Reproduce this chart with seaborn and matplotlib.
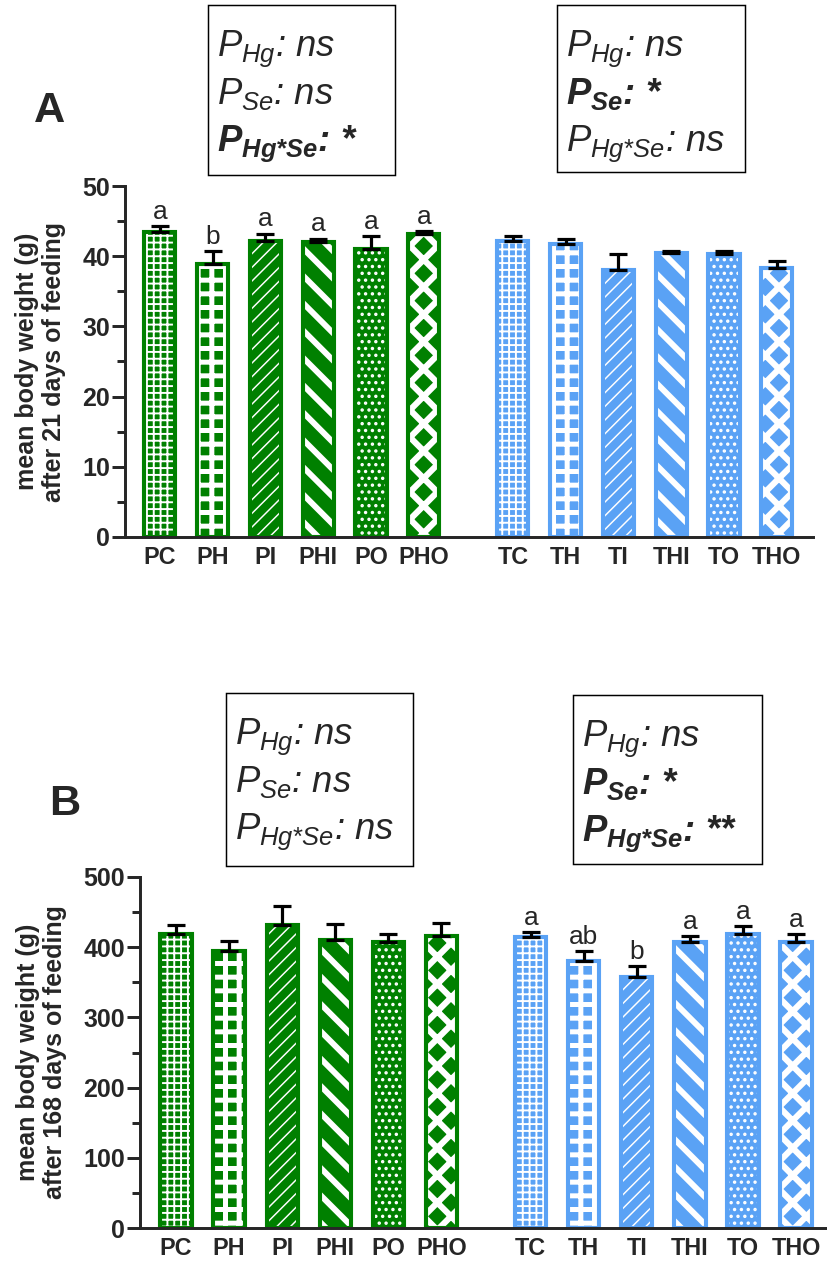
import numpy as np
import pandas as pd
import matplotlib
matplotlib.use("Agg")
import matplotlib.pyplot as plt
import seaborn as sns
from matplotlib.patches import Rectangle
from matplotlib.ticker import MultipleLocator

# ---------------- data ----------------
groups_P = ["PC", "PH", "PI", "PHI", "PO", "PHO"]
groups_T = ["TC", "TH", "TI", "THI", "TO", "THO"]
labels = groups_P + groups_T
diet = ["P"] * 6 + ["T"] * 6

mean_21 = [43.5, 38.9, 42.1, 42.0, 41.0, 43.1, 42.2, 41.8, 38.1, 40.5, 40.3, 38.3]
sem_21 = [0.8, 1.8, 1.1, 0.5, 1.9, 0.5, 0.7, 0.6, 2.2, 0.3, 0.4, 1.0]
letters_21 = ["a", "b", "a", "a", "a", "a", "", "", "", "", "", ""]

mean_168 = [419, 395, 431, 410, 407, 416, 415, 381, 358, 407, 419, 408]
sem_168 = [12, 14, 28, 23, 12, 18, 6, 13, 15, 9, 11, 11]
letters_168 = ["", "", "", "", "", "", "a", "ab", "b", "a", "a", "a"]

box_A_left = [(r"$P_{Hg}$: ns", False), (r"$P_{Se}$: ns", False), (r"$\mathbf{P_{Hg{*}Se}}$: *", True)]
box_A_right = [(r"$P_{Hg}$: ns", False), (r"$\mathbf{P_{Se}}$: *", True), (r"$P_{Hg{*}Se}$: ns", False)]
box_B_left = [(r"$P_{Hg}$: ns", False), (r"$P_{Se}$: ns", False), (r"$P_{Hg{*}Se}$: ns", False)]
box_B_right = [(r"$P_{Hg}$: ns", False), (r"$\mathbf{P_{Se}}$: *", True), (r"$\mathbf{P_{Hg{*}Se}}$: **", True)]

ylabel_A = "mean body weight (g)\nafter 21 days of feeding"
ylabel_B = "mean body weight (g)\nafter 168 days of feeding"

# ---------------- style ----------------
GREEN = "#008000"
BLUE = "#5AA2F5"
palette = {"P": GREEN, "T": BLUE}
# per-treatment pattern: (hatch, hatch linewidth)
patterns = {"C": ("++", 1.7), "H": ("+", 4.4), "I": ("//", 1.3),
            "HI": ("\\", 5.2), "O": ("..", 1.8), "HO": ("x", 5.4)}

DPI = 82
W, H = 827, 1274
GAP = 1.685
xpos = [i for i in range(6)] + [5 + GAP + i for i in range(6)]
BAR_W = 0.59

sns.set_style("ticks")
plt.rcParams["font.family"] = ["Liberation Sans", "DejaVu Sans"]
plt.rcParams["mathtext.fontset"] = "custom"
plt.rcParams["mathtext.rm"] = "Liberation Sans"
plt.rcParams["mathtext.it"] = "Liberation Sans:italic"
plt.rcParams["mathtext.bf"] = "Liberation Sans:bold:italic"

fig = plt.figure(figsize=(W / DPI, H / DPI), dpi=DPI)


def add_axes_px(left, right, top, bottom):
    return fig.add_axes([left / W, 1 - bottom / H, (right - left) / W, (bottom - top) / H])


def draw_panel(ax, means, errs, letters, ymax, major, minor, ylabel, xlim, lab_x):
    df = pd.DataFrame({"pos": xpos, "mean": means, "diet": diet, "label": labels})
    sns.barplot(data=df, x="pos", y="mean", hue="diet", palette=palette,
                native_scale=True, width=BAR_W, dodge=False, errorbar=None,
                linewidth=0, legend=False, ax=ax)
    fills = list(ax.patches)
    for p in fills:
        c = p.get_x() + p.get_width() / 2
        i = int(np.argmin([abs(c - x) for x in xpos]))
        code = labels[i][1:]
        hatch, hlw = patterns[code]
        p.set_facecolor(palette[diet[i]])
        p.set_edgecolor("white")
        p.set_linewidth(0)
        p.set_hatch(hatch)
        if hasattr(p, "set_hatch_linewidth"):
            p.set_hatch_linewidth(hlw)
        p.set_zorder(1)
    sns.barplot(data=df, x="pos", y="mean", hue="diet", palette=palette,
                native_scale=True, width=BAR_W, dodge=False, errorbar=None,
                fill=False, linewidth=3.6, legend=False, ax=ax)
    for p in ax.patches[len(fills):]:
        p.set_zorder(2)
        p.set_joinstyle("miter")
    ax.errorbar(xpos, means, yerr=[np.zeros(len(errs)), errs], fmt="none",
                ecolor="black", elinewidth=2.8, capsize=8, capthick=2.8, zorder=3)
    for x, m, e, l in zip(xpos, means, errs, letters):
        if l:
            ax.annotate(l, (x, m + e), xytext=(0, 2), textcoords="offset points",
                        ha="center", va="bottom", fontsize=23)
    ax.set_xlim(*xlim)
    ax.set_ylim(0, ymax)
    ax.set_yticks(np.arange(0, ymax + 1, major))
    ax.yaxis.set_minor_locator(MultipleLocator(minor))
    ax.set_xticks(xpos)
    ax.set_xticklabels(labels, fontweight="bold", fontsize=20.5)
    ax.tick_params(axis="x", length=0, pad=8)
    ax.tick_params(axis="y", which="major", length=11, width=2.6, labelsize=22, pad=2)
    ax.tick_params(axis="y", which="minor", length=7, width=2.6)
    for t in ax.get_yticklabels():
        t.set_fontweight("bold")
    for s in ["top", "right"]:
        ax.spines[s].set_visible(False)
    for s in ["left", "bottom"]:
        ax.spines[s].set_linewidth(2.6)
    ax.set_xlabel("")
    ax.set_ylabel(ylabel, fontweight="bold", fontsize=22, linespacing=1.15)
    ax.yaxis.set_label_coords(lab_x, 0.5)
    ax.set_facecolor("none")


def draw_box(x0, y0, x1, y1, lines):
    fig.add_artist(Rectangle((x0 / W, 1 - y1 / H), (x1 - x0) / W, (y1 - y0) / H,
                             transform=fig.transFigure, fill=False, lw=1.3, ec="black"))
    for k, (s, bold) in enumerate(lines):
        fig.text((x0 + 9) / W, 1 - (y0 + 51 + 47.5 * k) / H, s, fontsize=32,
                 style="italic", fontweight="bold" if bold else "normal", va="baseline")


axA = add_axes_px(125, 813, 186, 537)
draw_panel(axA, mean_21, sem_21, letters_21, 50, 10, 5, ylabel_A, (-0.66, 12.37), -0.086)
axB = add_axes_px(140, 827, 877, 1228)
draw_panel(axB, mean_168, sem_168, letters_168, 500, 100, 50, ylabel_B, (-0.68, 12.27), -0.106)

draw_box(208, 5, 395, 175, box_A_left)
draw_box(557, 5, 745, 172, box_A_right)
draw_box(226, 693, 413, 866, box_B_left)
draw_box(573, 695, 762, 864, box_B_right)

fig.text(50 / W, 1 - 111 / H, "A", fontsize=38, fontweight="bold", ha="center", va="center")
fig.text(65 / W, 1 - 804 / H, "B", fontsize=38, fontweight="bold", ha="center", va="center")

fig.savefig("out.png", dpi=DPI, facecolor="white")
